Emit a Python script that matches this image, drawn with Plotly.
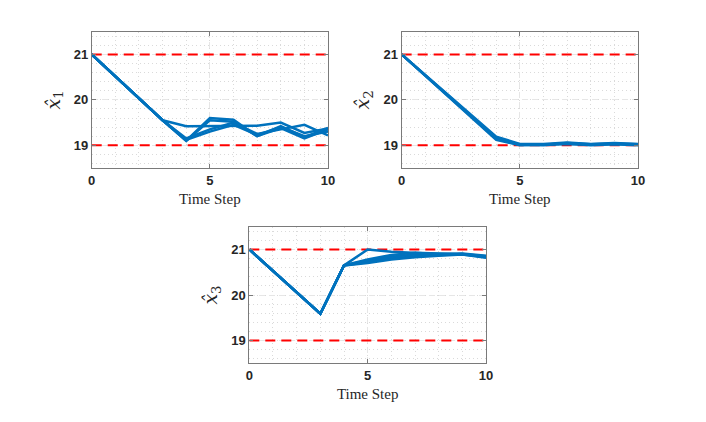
import plotly.graph_objects as go

# ---- data ----
time_steps = [0, 1, 2, 3, 4, 5, 6, 7, 8, 9, 10]

x1_runs = [
    [21, 20.52, 20.04, 19.55, 19.42, 19.42, 19.43, 19.43, 19.50, 19.27, 19.37],
    [21, 20.52, 20.04, 19.55, 19.10, 19.60, 19.56, 19.20, 19.38, 19.15, 19.35],
    [21, 20.52, 20.04, 19.55, 19.12, 19.30, 19.45, 19.23, 19.40, 19.20, 19.30],
    [21, 20.52, 20.04, 19.55, 19.15, 19.35, 19.50, 19.25, 19.35, 19.45, 19.22],
    [21, 20.52, 20.04, 19.55, 19.10, 19.55, 19.52, 19.20, 19.42, 19.18, 19.38],
]
x2_runs = [
    [21, 20.54, 20.08, 19.62, 19.16, 19.02, 19.01, 19.05, 19.02, 19.04, 19.02],
    [21, 20.53, 20.06, 19.59, 19.12, 19.00, 19.02, 19.03, 19.01, 19.03, 19.01],
    [21, 20.55, 20.10, 19.65, 19.19, 19.03, 19.03, 19.06, 19.03, 19.05, 19.03],
    [21, 20.54, 20.07, 19.61, 19.14, 19.01, 19.00, 19.04, 19.00, 19.02, 19.00],
]
x3_runs = [
    [21, 20.53, 20.06, 19.59, 20.65, 21.00, 20.95, 20.93, 20.90, 20.90, 20.85],
    [21, 20.53, 20.06, 19.59, 20.65, 20.72, 20.80, 20.85, 20.88, 20.90, 20.83],
    [21, 20.53, 20.06, 19.59, 20.65, 20.76, 20.84, 20.89, 20.90, 20.91, 20.86],
    [21, 20.53, 20.06, 19.59, 20.65, 20.70, 20.78, 20.83, 20.86, 20.89, 20.82],
    [21, 20.53, 20.06, 19.59, 20.65, 20.78, 20.88, 20.93, 20.91, 20.89, 20.84],
]
upper_bound = 21
lower_bound = 19
y_labels = ["<i>x̂</i><sub>1</sub>", "<i>x̂</i><sub>2</sub>", "<i>x̂</i><sub>3</sub>"]
x_title = "Time Step"

# ---- style ----
BLUE = "#0072BD"
RED = "#FF0000"
AX = "#262626"
LINE = "#7a7a7a"
domains = [
    ([0.1186, 0.4533], [0.6209, 0.9438]),
    ([0.5576, 0.8924], [0.6209, 0.9438]),
    ([0.3418, 0.6771], [0.1580, 0.4818]),
]

fig = go.Figure()
all_runs = [x1_runs, x2_runs, x3_runs]
for i, runs in enumerate(all_runs):
    xa = "x" if i == 0 else f"x{i+1}"
    ya = "y" if i == 0 else f"y{i+1}"
    for bound in (upper_bound, lower_bound):
        fig.add_trace(go.Scatter(
            x=[time_steps[0], time_steps[-1]], y=[bound, bound],
            mode="lines", line=dict(color=RED, width=2, dash="10px,6px"),
            xaxis=xa, yaxis=ya, showlegend=False, hoverinfo="skip"))
    for run in runs:
        fig.add_trace(go.Scatter(
            x=time_steps, y=run, mode="lines",
            line=dict(color=BLUE, width=2.5),
            xaxis=xa, yaxis=ya, showlegend=False))

layout = dict(
    width=706, height=422,
    margin=dict(l=0, r=0, t=0, b=0),
    paper_bgcolor="white", plot_bgcolor="white",
)
for i, (dx, dy) in enumerate(domains):
    sx = "" if i == 0 else str(i + 1)
    layout["xaxis" + sx] = dict(
        domain=dx, anchor="y" + sx, range=[0, 10], automargin=False,
        tickvals=[0, 5, 10], ticks="inside", ticklen=4, tickcolor=LINE,
        showline=True, linecolor=LINE, linewidth=1, mirror="ticks",
        showgrid=True, gridcolor="#E6E6E6", griddash="6px,4px", gridwidth=1,
        minor=dict(dtick=1, showgrid=True, gridcolor="#DADADA", griddash="1px,3px", gridwidth=1),
        zeroline=False,
        tickfont=dict(family="Liberation Sans, Arial", size=13, color=AX, weight="bold"),
        title=dict(text=x_title, standoff=6,
                   font=dict(family="Liberation Serif, Times New Roman", size=15, color=AX)),
    )
    layout["yaxis" + sx] = dict(
        domain=dy, anchor="x" + sx, range=[18.5, 21.5], automargin=False,
        tickvals=[19, 20, 21], ticks="inside", ticklen=4, tickcolor=LINE,
        showline=True, linecolor=LINE, linewidth=1, mirror="ticks",
        showgrid=True, gridcolor="#E6E6E6", griddash="6px,4px", gridwidth=1,
        minor=dict(dtick=0.2, tick0=19, showgrid=True, gridcolor="#DADADA", griddash="1px,3px", gridwidth=1),
        zeroline=False,
        tickfont=dict(family="Liberation Sans, Arial", size=13, color=AX, weight="bold"),
        title=dict(text=y_labels[i], standoff=8,
                   font=dict(family="DejaVu Serif, Liberation Serif", size=19, color=AX)),
    )
fig.update_layout(**layout)
fig.write_html("out.html")
